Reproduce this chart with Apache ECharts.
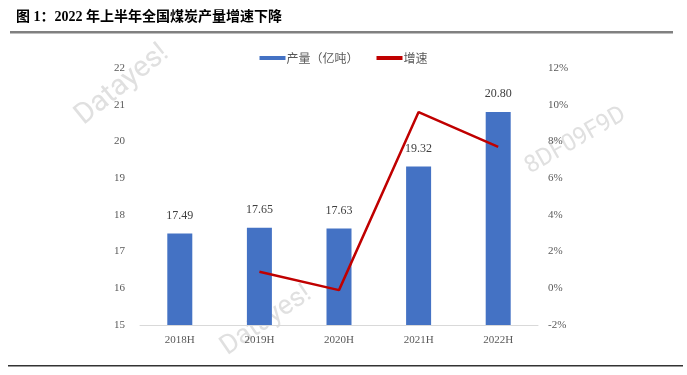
<!DOCTYPE html>
<html>
<head>
<meta charset="utf-8">
<script src="https://cdn.jsdelivr.net/npm/echarts@6/dist/echarts.min.js"></script>
<style>
  html, body { margin: 0; padding: 0; background: #fff; }
  #chart { width: 687px; height: 375px; }
</style>
</head>
<body>
<div id="chart"></div>
<script>
// 数据
const categories = ['2018H', '2019H', '2020H', '2021H', '2022H'];
const output = [17.49, 17.65, 17.63, 19.32, 20.80];   // 产量（亿吨）
const growth = [null, 0.9, -0.1, 9.6, 7.7];           // 增速 %

const numFont = '"Liberation Serif", "Noto Sans CJK SC", serif';
const labelColor = '#595959';

let myChart = echarts.init(document.getElementById('chart'));
myChart.setOption({
  animation: false,
  textStyle: { fontFamily: numFont },
  graphic: [
    {
      type: 'text', left: 16, top: 10,
      style: { text: '图 1：2022 年上半年全国煤炭产量增速下降', fontSize: 14, fontWeight: 'bold',
        fontFamily: '"Liberation Serif", "Noto Sans CJK SC", serif', fill: '#000' }
    },
    { type: 'rect', shape: { x: 10, y: 31, width: 663, height: 2.5 }, style: { fill: '#808080' } },
    { type: 'rect', shape: { x: 8, y: 365, width: 675, height: 1.5 }, style: { fill: '#333' } },
    // 水印
    { type: 'text', x: 88, y: 131, rotation: 0.68, z: 0,
      style: { text: 'Datayes!', fontSize: 29, fontFamily: 'Roboto, sans-serif', fill: '#e0e0e0', textVerticalAlign: 'bottom' } },
    { type: 'text', x: 533, y: 179, rotation: 0.52, z: 0,
      style: { text: '8DF09F9D', fontSize: 24, fontFamily: 'Roboto, sans-serif', fill: '#e0e0e0', textVerticalAlign: 'bottom' } },
    { type: 'text', x: 231, y: 361, rotation: 0.6, z: 0,
      style: { text: 'Datayes!', fontSize: 27, fontFamily: 'Roboto, sans-serif', fill: '#e0e0e0', textVerticalAlign: 'bottom' } }
  ],
  legend: {
    top: 47, left: 'center',
    itemWidth: 26, itemHeight: 4, itemGap: 18,
    icon: 'rect',
    textStyle: { color: labelColor, fontSize: 12, fontFamily: '"Noto Sans CJK SC", sans-serif', padding: [0, 0, 0, -4] },
    data: ['产量（亿吨）', '增速']
  },
  grid: { left: 140, right: 149, top: 68, bottom: 50 },
  xAxis: {
    type: 'category',
    data: categories,
    axisLine: { onZero: false, lineStyle: { color: '#d9d9d9', width: 1 } },
    axisTick: { show: false },
    axisLabel: { color: labelColor, fontSize: 11, margin: 10 }
  },
  yAxis: [
    {
      type: 'value', min: 15, max: 22, interval: 1,
      axisLine: { show: false }, axisTick: { show: false },
      splitLine: { show: false },
      axisLabel: { color: labelColor, fontSize: 11, margin: 15 }
    },
    {
      type: 'value', min: -2, max: 12, interval: 2,
      axisLine: { show: false }, axisTick: { show: false },
      splitLine: { show: false },
      axisLabel: { color: labelColor, fontSize: 11, margin: 10, formatter: '{value}%' }
    }
  ],
  series: [
    {
      name: '产量（亿吨）',
      type: 'bar',
      data: output,
      barWidth: 25,
      itemStyle: { color: '#4472c4' },
      label: {
        show: true, position: 'top', distance: 12,
        color: '#404040', fontSize: 12,
        formatter: p => p.value.toFixed(2)
      }
    },
    {
      name: '增速',
      type: 'line',
      yAxisIndex: 1,
      data: growth,
      symbol: 'none',
      lineStyle: { color: '#c00000', width: 2.5 },
      itemStyle: { color: '#c00000' }
    }
  ]
});
</script>
</body>
</html>
